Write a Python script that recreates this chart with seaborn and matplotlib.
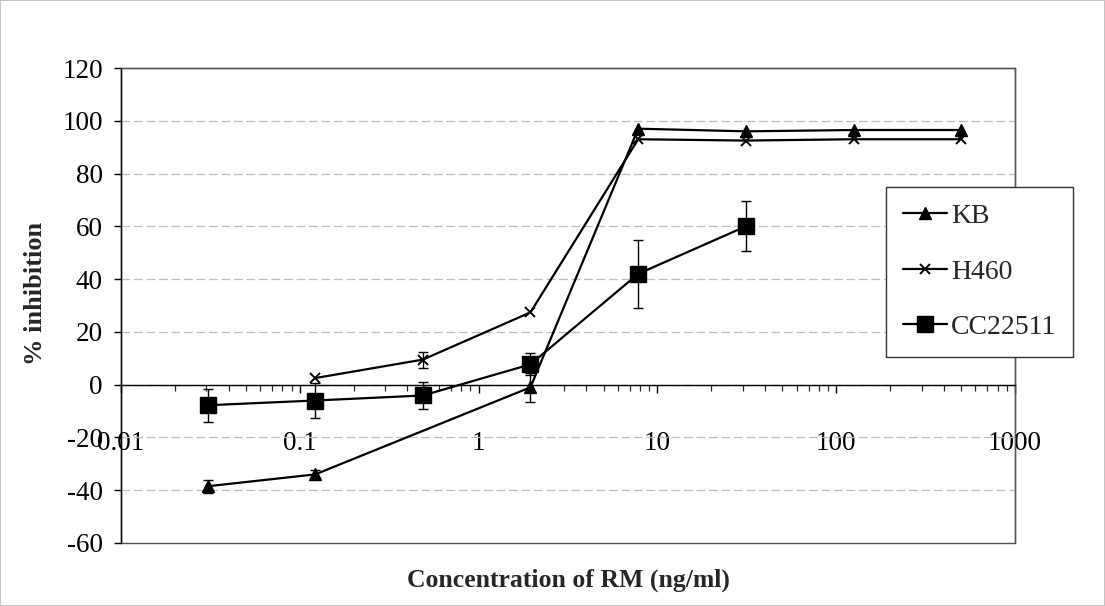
import numpy as np
import matplotlib
matplotlib.use("Agg")
import matplotlib.pyplot as plt
from matplotlib.patches import Rectangle
from matplotlib.ticker import LogLocator, NullFormatter, FixedLocator, FixedFormatter
import seaborn as sns

# Concentrations of RM (ng/ml), fourfold dilution series
kb_conc = [0.0305, 0.122, 1.95, 7.81, 31.25, 125, 500]
kb_inhib = [-38.5, -34.0, -1.0, 97.0, 96.0, 96.5, 96.5]
kb_err = [2.5, 1.5, 5.6, 0, 0, 0, 0]

h460_conc = [0.122, 0.488, 1.95, 7.81, 31.25, 125, 500]
h460_inhib = [2.5, 9.5, 27.4, 93.0, 92.5, 93.0, 93.0]
h460_err = [0, 3.0, 0, 0, 0, 0, 0]

cc_conc = [0.0305, 0.122, 0.488, 1.95, 7.81, 31.25]
cc_inhib = [-7.8, -6.0, -4.1, 7.7, 42.0, 60.0]
cc_err = [6.2, 6.8, 5.3, 4.2, 13.0, 9.5]

x_ticks = [0.01, 0.1, 1, 10, 100, 1000]
x_tick_labels = ["0.01", "0.1", "1", "10", "100", "1000"]
y_ticks = [-60, -40, -20, 0, 20, 40, 60, 80, 100, 120]

sns.set_style("white")
plt.rcParams["font.family"] = ["Liberation Serif", "DejaVu Serif"]
plt.rcParams["axes.unicode_minus"] = False

W, H = 1105, 606
fig = plt.figure(figsize=(W / 100, H / 100), dpi=100)
fig.patch.set_facecolor("white")
fig.patch.set_edgecolor("#c4c4c4")
fig.patch.set_linewidth(1.2)

ax = fig.add_axes([121 / W, 1 - 543 / H, (1015 - 121) / W, (543 - 68) / H])
ax.set_xscale("log")
ax.set_xlim(0.01, 1000)
ax.set_ylim(-60, 120)

series = [
    ("KB", kb_conc, kb_inhib, kb_err, "^", 8),
    ("H460", h460_conc, h460_inhib, h460_err, "x", 7),
    ("CC22511", cc_conc, cc_inhib, cc_err, "s", 12),
]

for name, xs, ys, errs, marker, ms in series:
    xs_e = [x for x, e in zip(xs, errs) if e > 0]
    ys_e = [y for y, e in zip(ys, errs) if e > 0]
    es = [e for e in errs if e > 0]
    ax.errorbar(xs_e, ys_e, yerr=es, fmt="none", ecolor="black",
                elinewidth=1.0, capsize=3.5, capthick=1.0, zorder=2)
    sns.lineplot(x=xs, y=ys, ax=ax, color="black", linewidth=1.6,
                 marker=marker, markersize=ms, markerfacecolor="black",
                 markeredgecolor="black",
                 markeredgewidth=1.4 if marker == "x" else 1.0,
                 sort=False, errorbar=None, label=name, zorder=3)

# horizontal gridlines
ax.yaxis.grid(True, color="#bdbdbd", linewidth=0.9, linestyle=(0, (7, 3)))
ax.xaxis.grid(False)
ax.set_axisbelow(True)

# x axis crosses at zero
for side in ["top", "right"]:
    ax.spines[side].set_visible(True)
    ax.spines[side].set_color("#555555")
    ax.spines[side].set_linewidth(1.0)
ax.spines["left"].set_color("black")
ax.spines["left"].set_linewidth(1.0)
ax.spines["bottom"].set_position(("data", 0))
ax.spines["bottom"].set_color("black")
ax.spines["bottom"].set_linewidth(1.0)
ax.add_patch(Rectangle((0, 0), 1, 1, transform=ax.transAxes, fill=False,
                       edgecolor="#555555", linewidth=1.0, clip_on=False, zorder=0.5))

ax.xaxis.set_major_locator(FixedLocator(x_ticks))
ax.xaxis.set_major_formatter(FixedFormatter(x_tick_labels))
ax.xaxis.set_minor_locator(LogLocator(base=10, subs=range(2, 10)))
ax.xaxis.set_minor_formatter(NullFormatter())
ax.set_yticks(y_ticks)

ax.tick_params(axis="x", which="major", direction="out", length=6, width=1,
               pad=27, labelsize=19.5, colors="black", bottom=True)
ax.tick_params(axis="x", which="minor", direction="out", length=4, width=0.9,
               bottom=True)
ax.tick_params(axis="y", which="major", direction="out", length=5, width=1,
               pad=8, labelsize=19.5, colors="black", left=True)

ax.set_xlabel("Concentration of RM (ng/ml)", fontsize=18.5, fontweight="bold")
ax.xaxis.set_label_coords((568 - 121) / 894, (543 - 580) / 475)
ax.xaxis.label.set_va("center")
ax.set_ylabel("% inhibition", fontsize=19, fontweight="bold")
ax.yaxis.set_label_coords((35 - 121) / 894, (543 - 293) / 475)
ax.yaxis.label.set_va("center")

handles, labels = ax.get_legend_handles_labels()
leg = ax.legend(handles, labels, loc="upper left",
                bbox_to_anchor=((886 - 121) / 894, (543 - 187) / 475),
                borderaxespad=0, fontsize=20, frameon=True, fancybox=False,
                edgecolor="#333333", framealpha=1, handlelength=1.6,
                handletextpad=0.15, labelspacing=1.08, borderpad=0.6)
leg.get_frame().set_linewidth(1.0)

fig.savefig("out.png", dpi=100)
